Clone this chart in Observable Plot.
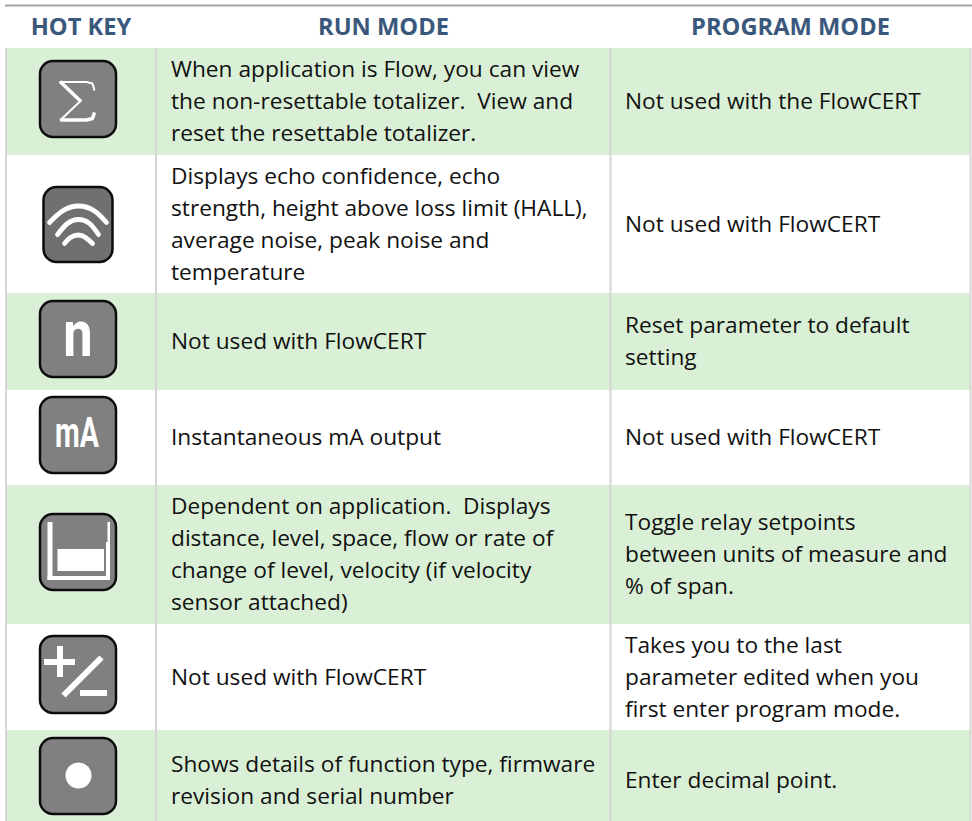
<!DOCTYPE html>
<html>
<head>
<meta charset="utf-8">
<script src="https://cdn.jsdelivr.net/npm/d3@7"></script>
<script src="https://cdn.jsdelivr.net/npm/@observablehq/plot@0.6"></script>
<style>html,body{margin:0;padding:0;background:#fff}svg{display:block}</style>
</head>
<body>
<div id="chart"></div>
<script>
const headers = ["HOT KEY", "RUN MODE", "PROGRAM MODE"];
const runMode = [
  "When application is Flow, you can view\nthe non-resettable totalizer.  View and\nreset the resettable totalizer.",
  "Displays echo confidence, echo\nstrength, height above loss limit (HALL),\naverage noise, peak noise and\ntemperature",
  "Not used with FlowCERT",
  "Instantaneous mA output",
  "Dependent on application.  Displays\ndistance, level, space, flow or rate of\nchange of level, velocity (if velocity\nsensor attached)",
  "Not used with FlowCERT",
  "Shows details of function type, firmware\nrevision and serial number"
];
const programMode = [
  "Not used with the FlowCERT",
  "Not used with FlowCERT",
  "Reset parameter to default\nsetting",
  "Not used with FlowCERT",
  "Toggle relay setpoints\nbetween units of measure and\n% of span.",
  "Takes you to the last\nparameter edited when you\nfirst enter program mode.",
  "Enter decimal point."
];
// layout (pixel scale: identity); the last row runs past the bottom of the picture
const rowEdges = [48, 155, 293, 390, 485, 624, 730, 831];
const columnEdges = [155.5, 610];
const headerX = [80.5, 383, 790];
const iconTops = [61, 187, 301, 397, 514, 636, 738];
const iconBottoms = [137, 262, 377, 473, 590, 713, 814];

const rows = runMode.map((run, i) => ({
  run, program: programMode[i],
  y1: rowEdges[i], y2: rowEdges[i + 1], yc: (rowEdges[i] + rowEdges[i + 1]) / 2 - 3,
  top: iconTops[i], bottom: iconBottoms[i], wifi: i === 1
}));
const arcs = [
  [[49, 222], [62, 210.5], [78, 205.5], [94, 210.5], [106, 222]],
  [[57, 234], [67, 223], [78, 219], [89, 223], [98, 234]],
  [[64, 243], [70, 237], [78, 234.5], [85, 237], [92, 243]]
].flatMap((a, k) => a.map(([x, y]) => ({x, y, k})));
const sigma = [
  [[94, 90], [92, 83], [86, 81.5], [59, 81.5]],
  [[59.5, 81], [80.5, 101]],
  [[80.5, 100], [59.5, 120]],
  [[60, 119.5], [86, 119.5], [92, 118], [94, 112]]
];
const sigmaWeights = [2, 3.5, 2, 3.5];
const sigmaPoints = sigma.flatMap((s, k) => s.map(([x, y]) => ({x, y, k, w: sigmaWeights[k]})));
const whiteRects = [
  // plus/minus
  [44, 75, 659, 665], [57, 63, 646, 677], [80, 107, 690, 696],
  // tank walls and contents
  [47.5, 52.5, 522, 580], [47.5, 110, 576, 580], [106, 110, 542, 580], [107.5, 110, 522, 542], [57.5, 104, 549, 571]
].map(([x1, x2, y1, y2]) => ({x1, x2, y1, y2}));

// narrows a mark horizontally about cx, for the condensed key-cap lettering
const condensed = (cx, sx) => (index, scales, values, dimensions, context, next) => {
  const g = next(index, scales, values, dimensions, context);
  g.setAttribute("transform", `translate(${cx},0) scale(${sx},1) translate(${-cx},0)`);
  return g;
};

const fontFamily = "'Open Sans'";
const bodySize = 22.7;
const plot = Plot.plot({
  width: 972, height: 821,
  margin: 0,
  x: {type: "identity", axis: null},
  y: {type: "identity", axis: null},
  marks: [
    Plot.rect(rows.filter((d, i) => i % 2 === 0), {x1: 6, x2: 970, y1: "y1", y2: "y2", fill: "#daf0d6"}),
    Plot.ruleY([5], {x1: 5, x2: 972, stroke: "#a2a2a2", strokeWidth: 2}),
    Plot.ruleX([5.5, ...columnEdges, 970], {y1: 48, y2: 821, stroke: "#d6d6d6", strokeWidth: 2}),
    Plot.text(headers, {
      x: (d, i) => headerX[i], y: 27, text: d => d, fill: "#3a587c",
      fontFamily, fontWeight: 700, fontSize: 23.7, textAnchor: "middle", lineAnchor: "middle"
    }),
    Plot.text(rows, {x: 170.5, y: "yc", text: "run", fill: "#111", fontFamily, fontSize: bodySize, lineHeight: 32 / bodySize, textAnchor: "start", lineAnchor: "middle"}),
    Plot.text(rows, {x: 624.5, y: "yc", text: "program", fill: "#111", fontFamily, fontSize: bodySize, lineHeight: 32 / bodySize, textAnchor: "start", lineAnchor: "middle"}),
    // key caps
    Plot.rect(rows, {
      x1: d => d.wifi ? 43.5 : 40, x2: d => d.wifi ? 112.5 : 116, y1: "top", y2: "bottom", rx: 13,
      fill: d => d.wifi ? "#707070" : "#808080", stroke: "#0c0c0c", strokeWidth: 2.5
    }),
    // glyphs
    Plot.line(sigmaPoints, {x: "x", y: "y", z: "k", stroke: "#fff", strokeWidth: "w", strokeLinecap: "butt"}),
    Plot.line(arcs, {x: "x", y: "y", z: "k", curve: "natural", stroke: "#fff", strokeWidth: 4.8, strokeLinecap: "round"}),
    Plot.text(["n"], {x: 78, y: 336, text: d => d, fill: "#fff", fontFamily: "Roboto", fontWeight: 700, fontSize: 64, lineAnchor: "middle", render: condensed(78, 0.82)}),
    Plot.text(["mA"], {x: 77, y: 434, text: d => d, fill: "#fff", fontFamily: "Roboto", fontWeight: 700, fontSize: 42, lineAnchor: "middle", render: condensed(77, 0.68)}),
    Plot.rect(whiteRects, {x1: "x1", x2: "x2", y1: "y1", y2: "y2", fill: "#fff"}),
    Plot.link([{x1: 63, y1: 695, x2: 101, y2: 657}], {x1: "x1", y1: "y1", x2: "x2", y2: "y2", stroke: "#fff", strokeWidth: 6}),
    Plot.dot([{x: 78, y: 775}], {x: "x", y: "y", r: 13, fill: "#fff"})
  ]
});
document.getElementById("chart").appendChild(plot);
</script>
</body>
</html>
